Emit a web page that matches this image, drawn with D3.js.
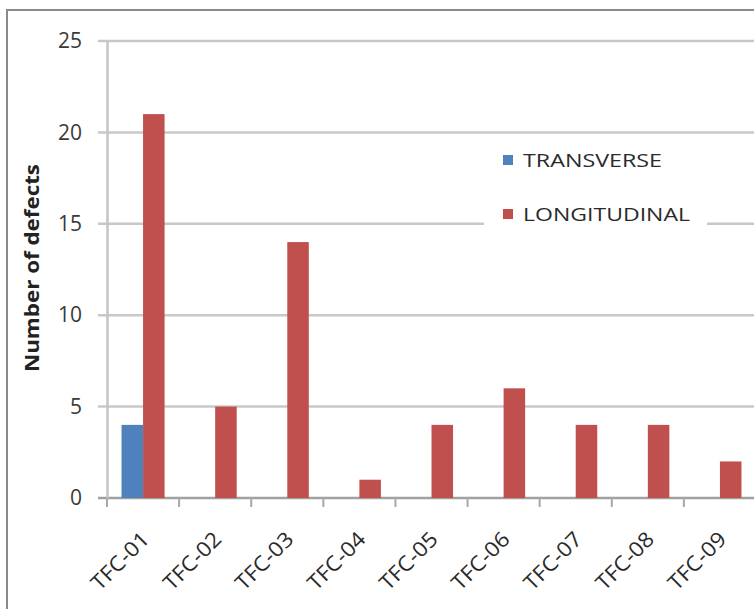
<!DOCTYPE html>
<html><head><meta charset="utf-8">
<script src="https://cdn.jsdelivr.net/npm/d3@7"></script>
<style>body{margin:0;background:#fff;}svg{display:block;}</style>
</head><body>
<svg id="c" width="754" height="609"></svg>
<script>
const categories = ["TFC-01","TFC-02","TFC-03","TFC-04","TFC-05","TFC-06","TFC-07","TFC-08","TFC-09"];
const transverse = [4,0,0,0,0,0,0,0,0];
const longitudinal = [21,5,14,1,4,6,4,4,2];
const seriesNames = ["TRANSVERSE","LONGITUDINAL"];
const seriesColors = ["#4F81BD","#C0504D"];
const yTicks = [0,5,10,15,20,25];

const svg = d3.select("#c");
const font = "'Open Sans', sans-serif";
// outer frame
svg.append("rect").attr("x",7).attr("y",10).attr("width",800).attr("height",700)
  .attr("fill","#fff").attr("stroke","#8a8a8a").attr("stroke-width",2);

const x0 = 107, x1 = 756, yTop = 41, yBot = 498;
const x = d3.scaleBand().domain(categories).range([x0,x1]).paddingInner(0).paddingOuter(0);
const y = d3.scaleLinear().domain([0,25]).range([yBot,yTop]);
const xs = d3.scaleBand().domain(seriesNames).range([0,x.bandwidth()]).paddingInner(0).paddingOuter(0.675);

// gridlines
svg.append("g").selectAll("line").data(yTicks).join("line")
  .attr("x1",x0-9).attr("x2",760).attr("y1",d=>y(d)).attr("y2",d=>y(d))
  .attr("stroke",d=>d===0?"#a0a0a0":"#c8c8c8").attr("stroke-width",2.5);

// y axis
const ya = svg.append("g").attr("transform",`translate(${x0},0)`)
  .call(d3.axisLeft(y).tickValues(yTicks).tickSize(0).tickPadding(25));
ya.select(".domain").attr("stroke","#c4c4c4").attr("stroke-width",2.5);
ya.selectAll("text").attr("font-family",font).attr("font-size",21).attr("fill","#3a3a3a");

// x axis tick marks
svg.append("g").selectAll("line").data(d3.range(categories.length+1)).join("line")
  .attr("x1",i=>x0+i*x.step()).attr("x2",i=>x0+i*x.step())
  .attr("y1",yBot).attr("y2",yBot+9).attr("stroke","#a8a8a8").attr("stroke-width",2);

// x labels
svg.append("g").selectAll("text").data(categories).join("text")
  .attr("transform",d=>`translate(${x(d)+x.bandwidth()/2+2},${yBot+37}) rotate(-45)`)
  .attr("text-anchor","end").attr("dominant-baseline","central")
  .attr("font-family",font).attr("font-size",21).attr("fill","#2a2a2a")
  .attr("textLength",72).attr("lengthAdjust","spacingAndGlyphs").text(d=>d);

// bars
const data = [transverse, longitudinal];
data.forEach((vals,si)=>{
  svg.append("g").selectAll("rect").data(vals.map((v,i)=>({c:categories[i],v}))).join("rect")
    .attr("x",d=>x(d.c)+xs(seriesNames[si]))
    .attr("width",xs.bandwidth())
    .attr("y",d=>y(d.v)).attr("height",d=>y(0)-y(d.v))
    .attr("fill",seriesColors[si]);
});

// y title
svg.append("text").attr("transform","translate(32,268) rotate(-90)")
  .attr("text-anchor","middle").attr("dominant-baseline","central")
  .attr("font-family",font).attr("font-weight","bold")
  .attr("font-size",19).attr("fill","#222")
  .attr("textLength",208).attr("lengthAdjust","spacingAndGlyphs")
  .text("Number of defects");

// legend
const lg = svg.append("g");
lg.append("rect").attr("x",484).attr("y",138).attr("width",223).attr("height",93).attr("fill","#fff");
const legW = [139,167];
seriesNames.forEach((n,i)=>{
  const cy = 160 + i*54;
  lg.append("rect").attr("x",503).attr("y",cy-5).attr("width",10).attr("height",10).attr("fill",seriesColors[i]);
  lg.append("text").attr("x",523).attr("y",cy).attr("dominant-baseline","central")
    .attr("font-family",font).attr("font-size",19).attr("fill","#2a2a2a")
    .attr("textLength",legW[i]).attr("lengthAdjust","spacingAndGlyphs").text(n);
});
</script>
</body></html>
